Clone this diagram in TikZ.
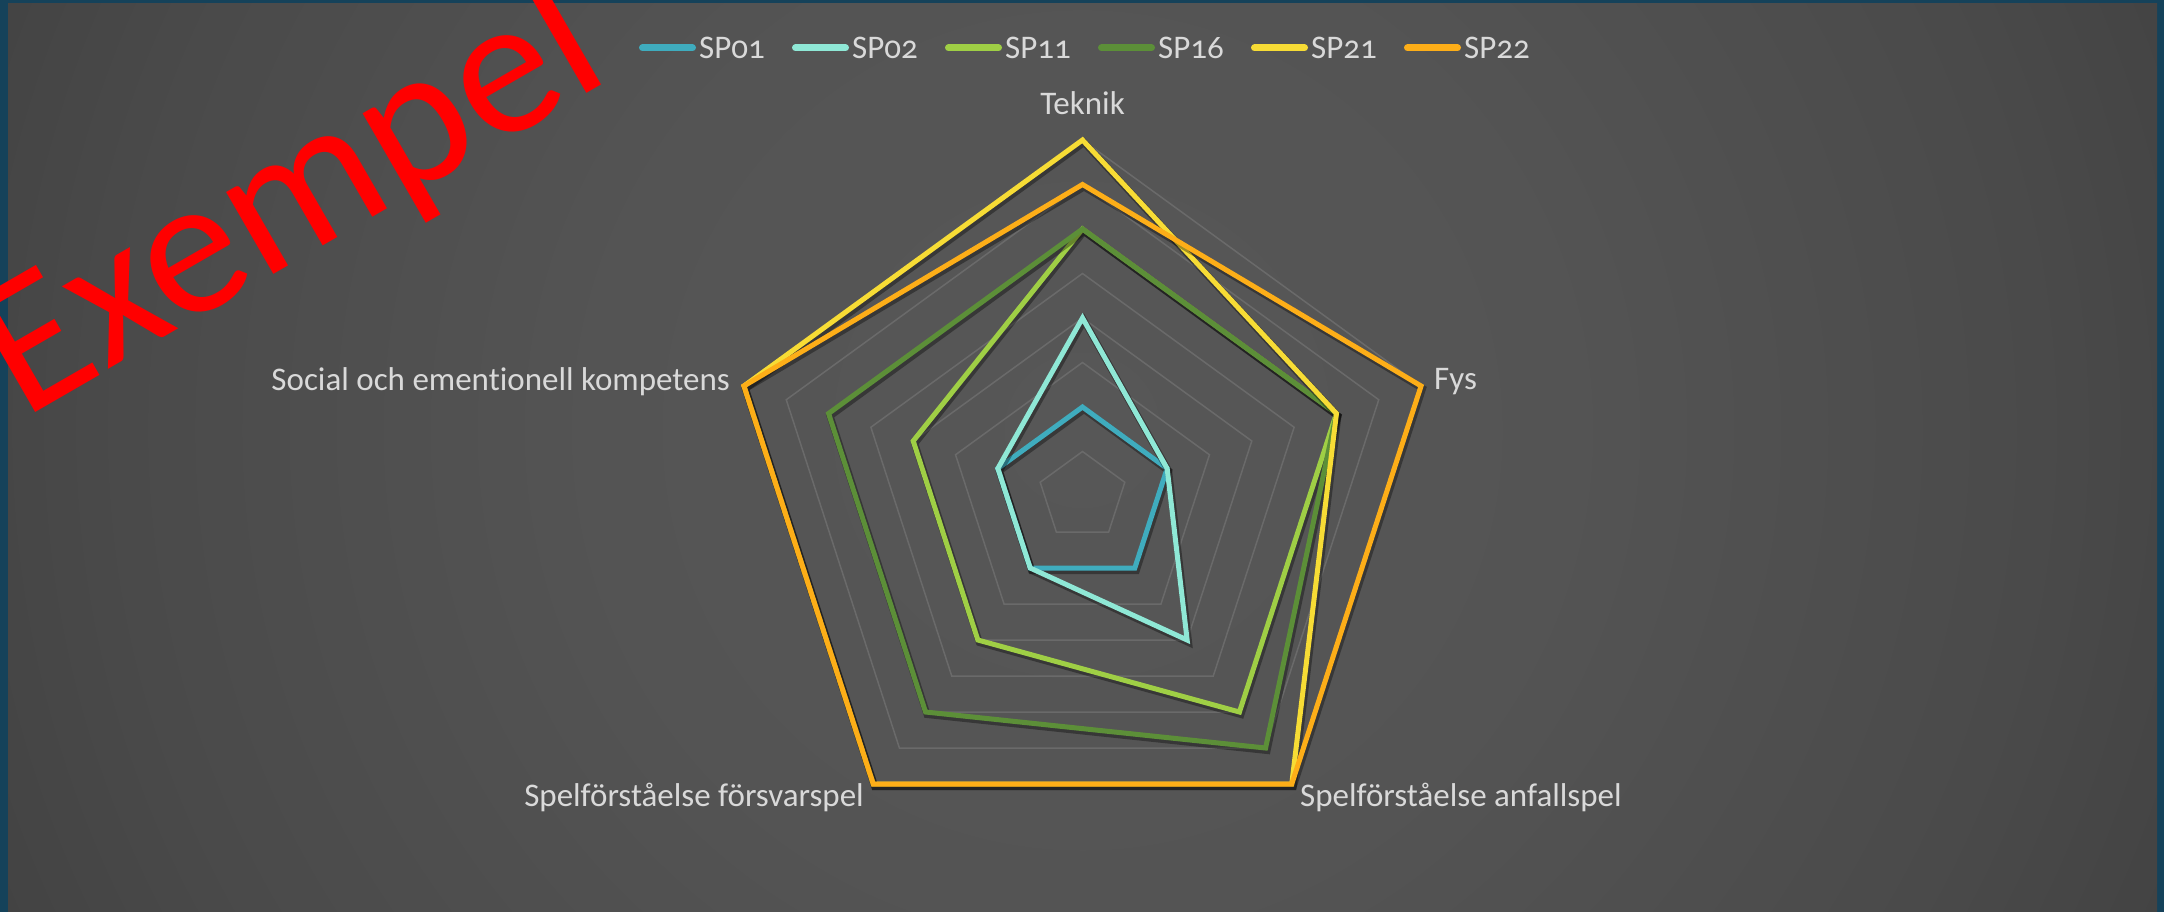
\documentclass[tikz,border=0pt]{standalone}
\usepackage{fontspec}
\setmainfont{Carlito}[Numbers=OldStyle, Ligatures=NoCommon]
\definecolor{frameblue}{HTML}{15425A}
\definecolor{labelgray}{HTML}{D9D9D9}
\definecolor{gridgray}{HTML}{6A6A6A}
\definecolor{cSPa}{HTML}{3FACBE}
\definecolor{cSPb}{HTML}{8FE8D6}
\definecolor{cSPc}{HTML}{9FCF45}
\definecolor{cSPd}{HTML}{5C8F38}
\definecolor{cSPe}{HTML}{F7DC35}
\definecolor{cSPf}{HTML}{FDAE18}
\pgfdeclareradialshading{bgshade}{\pgfpoint{0bp}{0bp}}{rgb(0bp)=(0.341,0.341,0.341); rgb(10bp)=(0.33,0.33,0.33); rgb(20bp)=(0.29,0.29,0.29); rgb(30bp)=(0.231,0.231,0.231); rgb(40bp)=(0.184,0.184,0.184); rgb(45bp)=(0.165,0.165,0.165); rgb(50bp)=(0.157,0.157,0.157); rgb(75bp)=(0.15,0.15,0.15)}
\tikzset{
  axislabel/.style={text=labelgray, inner sep=0pt, font=\fontsize{33}{40}\selectfont},
  legendtext/.style={text=labelgray, inner sep=0pt, anchor=west, font=\fontsize{33}{40}\selectfont},
  legendline/.style={line width=7pt, line cap=round},
  gridline/.style={draw=gridgray, line width=1.5pt, line join=miter},
  seriesline/.style={line width=5pt, line join=miter},
  seriesshadow/.style={draw=black, opacity=0.35, line width=7pt, line join=miter},
}
\begin{document}
\begin{tikzpicture}[x=1pt, y=-1pt]
\useasboundingbox (0,0) rectangle (2164,912);
\fill[frameblue] (0,0) rectangle (2164,912);
\begin{scope}
  \clip (8,4) rectangle (2157,912);
  \shade[shading=bgshade] (-118,-770) rectangle (2282,1630);
\end{scope}
% radar
\def\lev{44.5}
\begin{scope}[shift={(1082.5,496)}]
  \foreach \k in {1,...,8} {
    \draw[gridline] (-90:{\k*\lev}) -- (-18:{\k*\lev}) -- (54:{\k*\lev}) -- (126:{\k*\lev}) -- (198:{\k*\lev}) -- cycle;
  }
  \foreach \nm/\col/\va/\vb/\vc/\vd/\ve in {sa/cSPa/2/2/2/2/2, sb/cSPb/4/2/4/2/2, sc/cSPc/6/6/6/4/4, sd/cSPd/6/6/7/6/6, se/cSPe/8/6/8/8/8, sf/cSPf/7/8/8/8/8} {
    \coordinate (\nm-1) at (-90:{\va*\lev});
    \coordinate (\nm-2) at (-18:{\vb*\lev});
    \coordinate (\nm-3) at (54:{\vc*\lev});
    \coordinate (\nm-4) at (126:{\vd*\lev});
    \coordinate (\nm-5) at (198:{\ve*\lev});
    \draw[seriesshadow, transform canvas={shift={(1.5pt,-2.5pt)}}] (\nm-1) -- (\nm-2) -- (\nm-3) -- (\nm-4) -- (\nm-5) -- cycle;
    \draw[seriesline, draw=\col] (\nm-1) -- (\nm-2) -- (\nm-3) -- (\nm-4) -- (\nm-5) -- cycle;
  }
\end{scope}
% axis labels
\node[axislabel, anchor=center] (lteknik) at (1082.5,103) {Teknik};
\node[axislabel, anchor=west] (lfys) at (1434,382) {Fys};
\node[axislabel, anchor=west] (lanfall) at (1300,797) {Spelförståelse anfallspel};
\node[axislabel, anchor=east] (lforsvar) at (864,797) {Spelförståelse försvarspel};
\node[axislabel, anchor=east] (lsocial) at (730,382) {Social och ementionell kompetens};
% legend
\foreach \i/\col/\txt in {0/cSPa/SP01, 1/cSPb/SP02, 2/cSPc/SP11, 3/cSPd/SP16, 4/cSPe/SP21, 5/cSPf/SP22} {
  \coordinate (lga\i) at ({642.5+153*\i},48);
  \coordinate (lgb\i) at ({692.5+153*\i},48);
  \draw[legendline, draw=\col] (lga\i) -- (lgb\i);
  \node[legendtext] (lgt\i) at ({699+153*\i},48) {\txt};
}
% watermark
\node[text=red, inner sep=0pt, rotate=30, anchor=center, font=\fontsize{198}{208}\selectfont] (wm) at (292,203) {Exempel};
\end{tikzpicture}
\end{document}
